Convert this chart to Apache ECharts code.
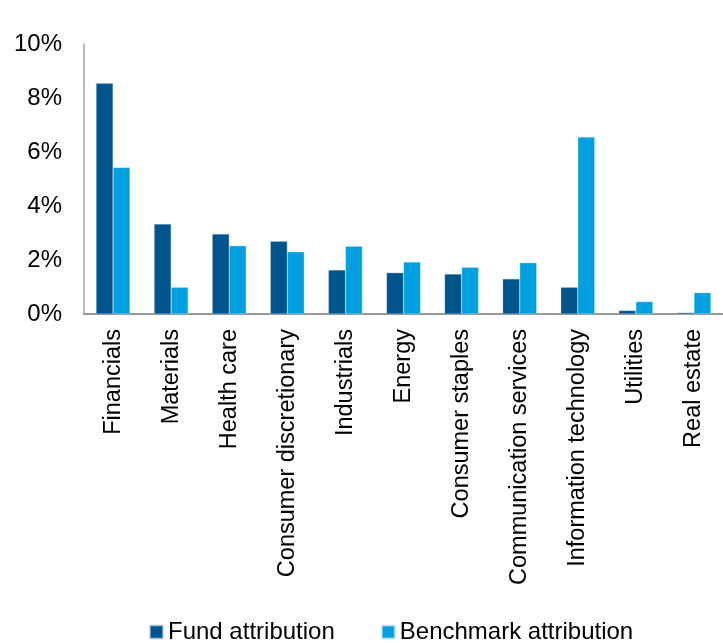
<!DOCTYPE html>
<html><head><meta charset="utf-8">
<script src="https://cdn.jsdelivr.net/npm/echarts@6/dist/echarts.min.js"></script>
<style>html,body{margin:0;padding:0;background:#fff}#c{width:723px;height:643px}</style>
</head><body><div id="c"></div>
<script>
const categories = ["Financials","Materials","Health care","Consumer discretionary","Industrials","Energy","Consumer staples","Communication services","Information technology","Utilities","Real estate"];
const fundAttribution = [8.55,3.33,2.96,2.69,1.63,1.53,1.48,1.30,0.99,0.13,0.05];
const benchmarkAttribution = [5.43,0.99,2.53,2.31,2.51,1.93,1.73,1.90,6.56,0.46,0.79];
const seriesNames = ["Fund attribution","Benchmark attribution"];

const chart = echarts.init(document.getElementById('c'));
const font = "Liberation Sans, Arial, sans-serif";
chart.setOption({
  animation:false,
  textStyle:{fontFamily:font},
  legend:{
    data:seriesNames, top:615, left:144, itemWidth:13, itemHeight:13, itemGap:46,
    icon:'rect',
    textStyle:{fontSize:24, color:'#000', fontFamily:font}
  },
  grid:{left:84, right:0, top:44, bottom:329, containLabel:false},
  xAxis:{
    type:'category', data:categories,
    axisLine:{lineStyle:{color:'#999', width:2}},
    axisTick:{show:false},
    axisLabel:{rotate:90, fontSize:23.5, color:'#000', margin:15, interval:0, fontFamily:font}
  },
  yAxis:{
    type:'value', min:0, max:10, interval:2,
    axisLine:{show:true, lineStyle:{color:'#a6a6a6', width:1.5}},
    axisTick:{show:false},
    splitLine:{show:false},
    axisLabel:{formatter:'{value}%', fontSize:24, color:'#000', margin:22, fontFamily:font}
  },
  series:[
    {name:seriesNames[0], type:'bar', data:fundAttribution, barWidth:17, barGap:'0%',
     itemStyle:{color:'#00568c', borderColor:'rgba(180,200,220,0.6)', borderWidth:0.5}},
    {name:seriesNames[1], type:'bar', data:benchmarkAttribution, barWidth:17, barGap:'0%',
     itemStyle:{color:'#00a0e0', borderColor:'rgba(200,230,250,0.7)', borderWidth:0.5}}
  ]
});
</script></body></html>
